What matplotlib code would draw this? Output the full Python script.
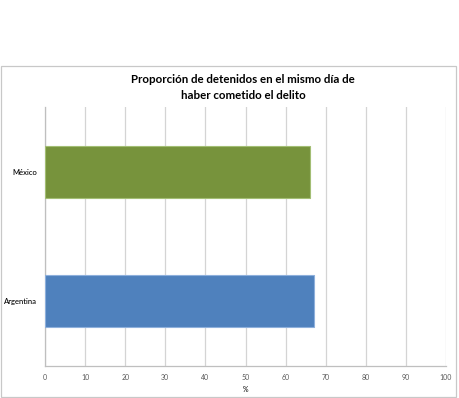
import matplotlib
matplotlib.use("Agg")
import matplotlib.pyplot as plt
from matplotlib.patches import Rectangle

categories = ["Argentina", "México"]
values = [67, 66]
colors = ["#4F81BD", "#77933C"]
edges = ["#8EB0DC", "#A3BE74"]
xticks = [0, 10, 20, 30, 40, 50, 60, 70, 80, 90, 100]

plt.rcParams['font.family'] = ['Lato', 'DejaVu Sans']

fig = plt.figure(figsize=(4.59, 3.98), dpi=100)
fig.patches.append(Rectangle((1/459, 1/398), 455/459, 331/398, transform=fig.transFigure,
                             fill=False, edgecolor="#C8C8C8", linewidth=0.9))

ax = fig.add_axes([45/459, 1 - 366/398, 401/459, 259/398])
y = list(range(len(categories)))
ax.barh(y, values, height=0.4, color=colors, edgecolor=edges, linewidth=0.8, zorder=3)
ax.set_xlim(0, 100)
ax.set_ylim(-0.5, 1.5)
ax.set_xticks(xticks)
ax.set_xticklabels([str(t) for t in xticks], fontsize=5, color="#595959")
ax.set_yticks(y)
ax.set_yticklabels(categories, fontsize=5.5, color="black", fontweight="medium")
ax.tick_params(axis='both', length=0, pad=6)
ax.tick_params(axis='y', pad=6)
ax.grid(axis='x', color="#D4D4D4", linewidth=0.9, zorder=0)
for s in ['top', 'right']:
    ax.spines[s].set_visible(False)
for s in ['left', 'bottom']:
    ax.spines[s].set_color("#BFBFBF")
    ax.spines[s].set_linewidth(0.9)
ax.set_xlabel("%", fontsize=5, color="black", labelpad=3)

fig.text(243/459, 1 - 87.5/398, "Proporción de detenidos en el mismo día de\nhaber cometido el delito",
         ha="center", va="center", fontsize=8.3, fontweight="bold", linespacing=1.55)

fig.savefig("out.png", dpi=100)
